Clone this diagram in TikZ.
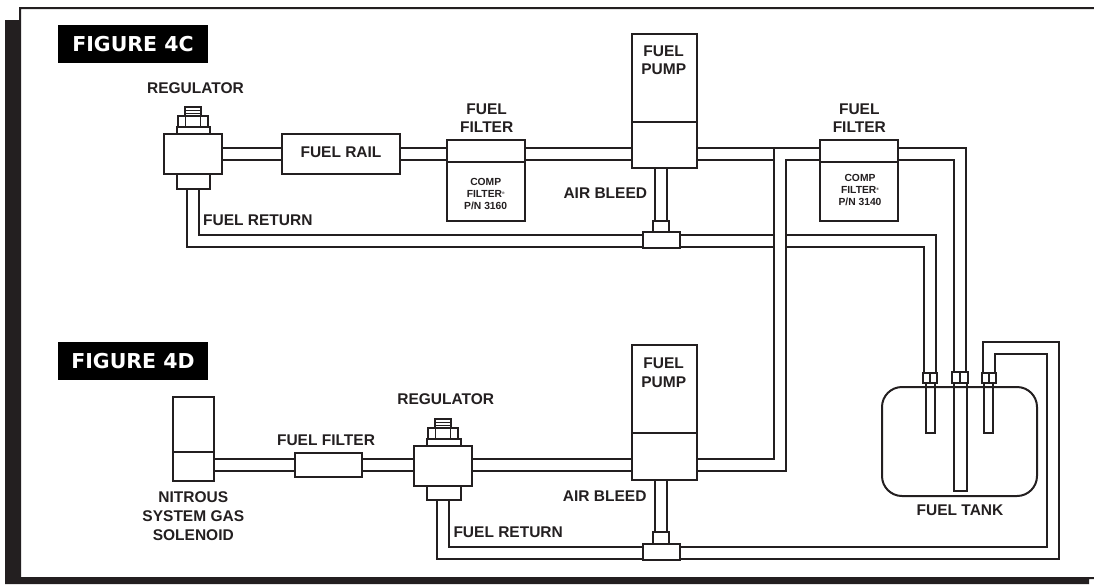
\documentclass[tikz,border=0pt]{standalone}
\usepackage{fontspec}
\setmainfont{Liberation Sans}
\newfontfamily\figfont{DejaVu Sans}
\usetikzlibrary{backgrounds}
\definecolor{ink}{HTML}{231F20}
\newcommand{\regmark}{\raisebox{3pt}{\fontsize{3.5}{4}\selectfont ®}}
\tikzset{
  part/.style={draw=ink,line width=2pt,fill=white,inner sep=0pt,outer sep=0pt},
  thinpart/.style={draw=ink,line width=1pt,inner sep=0pt,outer sep=0pt},
  pipe/.style={draw=ink,line width=2pt,double=white,double distance=10pt},
  tag/.style={text=ink,align=center,inner sep=0pt,font=\fontsize{15.5}{18.7}\selectfont\bfseries},
  smalltag/.style={text=ink,align=center,inner sep=0pt,font=\fontsize{10.3}{12.3}\selectfont\bfseries},
  figtag/.style={fill=black,text=white,inner sep=0pt,minimum width=150pt,minimum height=38pt,font=\figfont\fontsize{20.5}{22}\selectfont\bfseries}
}
\begin{document}
\begin{tikzpicture}[x=1pt,y=-1pt]
\useasboundingbox (0,0) rectangle (1094,584);
% frame
\fill[ink] (1094,7)--(19,7)--(19,20)--(5,20)--(5,584)--(1089,584)--(1089,579)--(1094,579)--(1094,577)--(21,577)--(21,9)--(1094,9)--cycle;
\node[figtag] (figC) at (133,44) {FIGURE 4C};
\node[figtag] (figD) at (133,361) {FIGURE 4D};
% figure 4C parts
\node[part,minimum width=58pt,minimum height=40pt] (regA) at (193,154) {};
\node[part,minimum width=33pt,minimum height=15pt] (regAcap) at (193.5,181.5) {};
\node[part,minimum width=33pt,minimum height=7pt] (regAflange) at (193.5,130.5) {};
\node[part,minimum width=30pt,minimum height=11pt] (regAnut) at (193,121.5) {};
\node[thinpart,minimum width=15pt,minimum height=11pt] (regAcore) at (193,121.5) {};
\node[part,minimum width=16pt,minimum height=9pt] (regAstud) at (193,111.5) {};
\draw[ink,line width=0.8pt] ([yshift=1.5pt]regAstud.west)--([yshift=1.5pt]regAstud.east);
\draw[ink,line width=0.8pt] ([yshift=-1.5pt]regAstud.west)--([yshift=-1.5pt]regAstud.east);
\node[part,minimum width=118pt,minimum height=40pt] (railA) at (341,154) {};
\node[part,minimum width=78pt,minimum height=22pt] (filterAtop) at (486,151) {};
\node[part,minimum width=78pt,minimum height=59pt] (filterA) at (486,191.5) {};
\node[part,minimum width=65pt,minimum height=88pt] (pumpAtop) at (664.5,78) {};
\node[part,minimum width=65pt,minimum height=46pt] (pumpAbase) at (664.5,145) {};
\node[part,minimum width=16pt,minimum height=11pt] (stemA) at (661,226.5) {};
\node[part,minimum width=37pt,minimum height=16pt] (teeA) at (661.5,240) {};
\node[part,minimum width=78pt,minimum height=22pt] (filterBtop) at (859,151) {};
\node[part,minimum width=78pt,minimum height=59pt] (filterB) at (859,191.5) {};
\node[tag] (regAtag) at (195.5,87.7) {REGULATOR};
\node[tag] (railAtag) at (341,152.5) {FUEL RAIL};
\node[tag,anchor=west] (retAtag) at (203,220.3) {FUEL RETURN};
\node[tag] (filterAtag) at (486.7,118.3) {FUEL\\FILTER};
\node[tag] (pumpAtag) at (663.7,60.3) {FUEL\\PUMP};
\node[tag] (bleedAtag) at (605.3,193.3) {AIR BLEED};
\node[tag] (filterBtag) at (859.3,118.2) {FUEL\\FILTER};
\node[smalltag] (compA) at (485.7,194) {COMP\\FILTER\regmark\\P/N 3160};
\node[smalltag] (compB) at (860,190) {COMP\\FILTER\regmark\\P/N 3140};
% figure 4D parts
\node[part,minimum width=41pt,minimum height=55pt] (solTop) at (193.5,424.5) {};
\node[part,minimum width=41pt,minimum height=29pt] (solBase) at (193.5,466.5) {};
\node[part,minimum width=67pt,minimum height=24pt] (filterC) at (328.5,465) {};
\node[part,minimum width=58pt,minimum height=40pt] (regB) at (443,466) {};
\node[part,minimum width=34pt,minimum height=14pt] (regBcap) at (444,493) {};
\node[part,minimum width=34pt,minimum height=7pt] (regBflange) at (444,442.5) {};
\node[part,minimum width=30pt,minimum height=11pt] (regBnut) at (443,433.5) {};
\node[thinpart,minimum width=15pt,minimum height=11pt] (regBcore) at (443,433.5) {};
\node[part,minimum width=16pt,minimum height=9pt] (regBstud) at (443,423.5) {};
\draw[ink,line width=0.8pt] ([yshift=1.5pt]regBstud.west)--([yshift=1.5pt]regBstud.east);
\draw[ink,line width=0.8pt] ([yshift=-1.5pt]regBstud.west)--([yshift=-1.5pt]regBstud.east);
\node[part,minimum width=65pt,minimum height=88pt] (pumpBtop) at (664.5,389) {};
\node[part,minimum width=65pt,minimum height=47pt] (pumpBbase) at (664.5,456.5) {};
\node[part,minimum width=16pt,minimum height=12pt] (stemB) at (661,538) {};
\node[part,minimum width=37pt,minimum height=16pt] (teeB) at (661.5,552) {};
\node[tag] (solTag) at (193.3,516) {NITROUS\\SYSTEM GAS\\SOLENOID};
\node[tag] (filterCtag) at (326,440.3) {FUEL FILTER};
\node[tag] (regBtag) at (445.7,399.3) {REGULATOR};
\node[tag,anchor=west] (retBtag) at (453.3,532.3) {FUEL RETURN};
\node[tag] (bleedBtag) at (604.7,495.7) {AIR BLEED};
\node[tag] (pumpBtag) at (663.7,372.5) {FUEL\\PUMP};
% tank
\node[part,minimum width=9pt,minimum height=50pt] (dipA) at (930.5,408) {};
\node[part,minimum width=13pt,minimum height=108pt] (dipB) at (960.5,437) {};
\node[part,minimum width=9pt,minimum height=50pt] (dipC) at (988.5,408) {};
\node[part,fill=none,rounded corners=20pt,minimum width=155pt,minimum height=109pt] (tank) at (959.5,441.5) {};
\node[part,minimum width=14pt,minimum height=10pt] (fitA) at (930,378) {};
\node[part,minimum width=16pt,minimum height=11pt] (fitB) at (960,377.5) {};
\node[part,minimum width=14pt,minimum height=10pt] (fitC) at (989,378) {};
\draw[ink,line width=1.5pt] (fitA.north)--(fitA.south);
\draw[ink,line width=1.5pt] (fitB.north)--(fitB.south);
\draw[ink,line width=1.5pt] (fitC.north)--(fitC.south);
\node[tag] (tankTag) at (960,510) {FUEL TANK};
% bends in the lines
\coordinate (busA) at (661,241);
\coordinate (busB) at (661,553);
\coordinate (riser) at (780,154);
\coordinate (outerB) at (1053,348);
\begin{scope}[on background layer]
\draw[pipe] (regA.east)--(railA.west);
\draw[pipe] (railA.east)--(filterAtop.west |- railA.east);
\draw[pipe] (filterAtop.east |- railA.east)--(pumpAbase.west |- railA.east);
\draw[pipe] (pumpAbase.south -| stemA)--(stemA.north);
\draw[pipe] (regAcap.south -| regA) |- (busA) -| (fitA.north);
\draw[pipe] (pumpAbase.east |- riser)--(riser);
\draw[pipe] (solBase.east |- filterC.west)--(filterC.west);
\draw[pipe] (filterC.east)--(regB.west |- filterC.east);
\draw[pipe] (regB.east |- filterC.east)--(pumpBbase.west |- filterC.east);
\draw[pipe] (pumpBbase.south -| stemB)--(stemB.north);
\draw[pipe] (regBcap.south -| regB) |- (busB) -| (outerB) -| (fitC.north);
\draw[pipe] (pumpBbase.east |- filterC.east) -| (riser)--(filterBtop.west |- riser);
\draw[pipe] (filterBtop.east |- riser) -| (fitB.north);
\end{scope}
\end{tikzpicture}
\end{document}
